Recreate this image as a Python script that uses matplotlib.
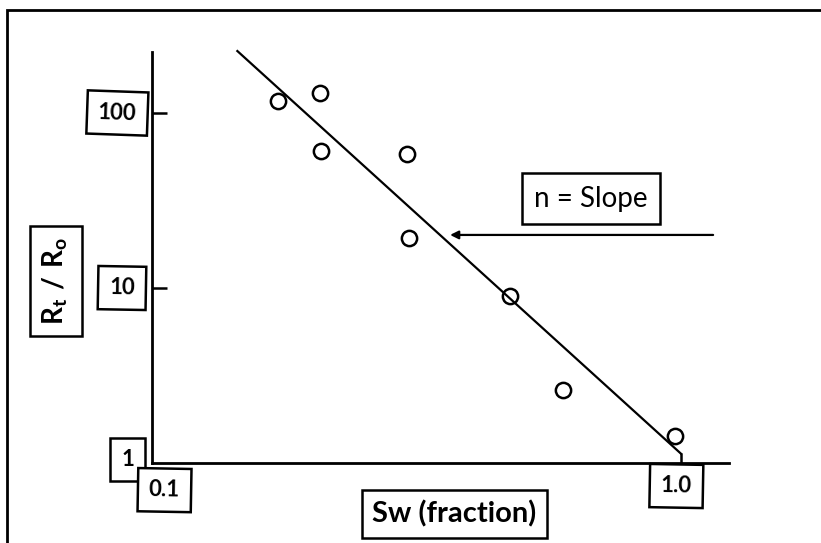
import numpy as np
import matplotlib
matplotlib.use("Agg")
import matplotlib.pyplot as plt
from matplotlib.lines import Line2D

plt.rcParams['font.family'] = ['Lato', 'DejaVu Sans']
plt.rcParams['mathtext.fontset'] = 'custom'
plt.rcParams['mathtext.rm'] = 'Lato'
plt.rcParams['mathtext.bf'] = 'Lato:bold'

# data
sw = [0.173, 0.208, 0.209, 0.303, 0.306, 0.476, 0.598, 0.974]
rt_ro = [116.8, 130.3, 60.8, 58.6, 19.4, 8.95, 2.61, 1.43]

# fitted line (two ends)
line_sw = [0.145, 1.0]
line_ratio = [226.0, 1.13]

# arrow pointing at the line
arrow_from = (1.15, 20.1)
arrow_to = (0.366, 20.1)

ytick_vals = [10, 100]

fig = plt.figure(figsize=(8.21, 5.43), dpi=100)
ax = fig.add_axes([152/821, 1 - 463/543, 577/821, 411/543])
ax.set_xscale('log')
ax.set_yscale('log')
ax.set_xlim(0.1, 10**(577/529 - 1))
ax.set_ylim(1, 10**(411/175))

for s in ['top', 'right']:
    ax.spines[s].set_visible(False)
for s in ['left', 'bottom']:
    ax.spines[s].set_linewidth(2)

ax.minorticks_off()
ax.set_yticks(ytick_vals)
ax.set_xticks([1.0])
ax.tick_params(axis='y', direction='in', length=11, width=1.8, labelleft=False)
ax.tick_params(axis='x', direction='in', length=7, width=1.8, labelbottom=False)

ax.plot(line_sw, line_ratio, color='black', lw=1.6, clip_on=False)
ax.plot(sw, rt_ro, 'o', ms=11, mfc='none', mec='black', mew=1.8, clip_on=False)

ax.annotate('', xy=arrow_to, xytext=arrow_from, annotation_clip=False,
            arrowprops=dict(arrowstyle='-|>', color='black', lw=1.6,
                            mutation_scale=12, shrinkA=0, shrinkB=0))

box = dict(boxstyle='square,pad=0.5', fc='white', ec='black', lw=1.8)

ax.text(0.676, 32.3, 'n = Slope', fontsize=20, ha='center', va='center',
        bbox=dict(boxstyle='square,pad=0.45', fc='white', ec='black', lw=1.8))

ytr = ax.get_yaxis_transform()
xtr = ax.get_xaxis_transform()
ax.text(-0.060, 100, '100', transform=ytr, fontsize=16, fontweight='bold',
        ha='center', va='center', bbox=box, rotation=-2)
ax.text(-0.052, 10, '10', transform=ytr, fontsize=16, fontweight='bold',
        ha='center', va='center', bbox=box, rotation=-1)
ax.text(-0.0425, 1.05, '1', transform=ytr, fontsize=16, fontweight='bold',
        ha='center', va='center', bbox=box)
ax.text(0.1056, -0.066, '0.1', transform=xtr, fontsize=16, fontweight='bold',
        ha='center', va='center', bbox=box, rotation=-1)
ax.text(0.98, -0.056, '1.0', transform=xtr, fontsize=16, fontweight='bold',
        ha='center', va='center', bbox=box, rotation=-1)

ax.text(0.524, -0.124, 'Sw (fraction)', transform=ax.transAxes, fontsize=21,
        fontweight='bold', ha='center', va='center',
        bbox=dict(boxstyle='square,pad=0.35', fc='white', ec='black', lw=1.8))
ax.text(-0.167, 0.443, r'$\mathbf{R_t\ /\ R_o}$', transform=ax.transAxes,
        fontsize=20, rotation=90, ha='center', va='center',
        bbox=dict(boxstyle='square,pad=0.4', fc='white', ec='black', lw=1.8))

# outer frame: only left and top edges fall inside the picture
left = 7/821
top = 1 - 10/543
fig.add_artist(Line2D([left, left, 1.5], [-0.5, top, top],
                      transform=fig.transFigure, color='black', lw=2,
                      solid_joinstyle='miter'))

fig.savefig('out.png', dpi=100)
